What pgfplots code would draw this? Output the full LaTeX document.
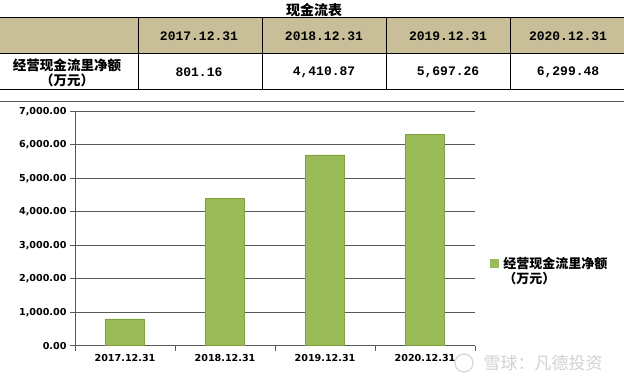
\documentclass[border=0pt]{standalone}
\usepackage{pgfplots}
\pgfplotsset{compat=1.18}
\usepackage{fontspec}
\setmainfont{DejaVu Sans}
\newfontfamily\cjk{Noto Sans CJK SC}
\newfontfamily\monof{Liberation Mono}
\definecolor{hdr}{RGB}{200,190,152}
\definecolor{barg}{RGB}{155,187,89}
\definecolor{bard}{RGB}{128,160,62}
\definecolor{gridc}{RGB}{89,89,89}
\begin{document}
\begin{tikzpicture}[x=1bp,y=1bp]
\useasboundingbox (0,0) rectangle (624,380);
\fill[white] (0,0) rectangle (624,380);
% table
\fill[hdr] (0,327) rectangle (624,362.5);
\draw[black, line width=0.9bp] (0,362.5) -- (624,362.5) (0,327) -- (624,327) (0,291) -- (624,291);
\foreach \x in {138,262,386,510} \draw[black,line width=0.9bp] (\x,362.5) -- (\x,291);
\node[font=\cjk\bfseries\fontsize{14bp}{16bp}\selectfont] at (314,369.5) {现金流表};
\begin{scope}[every node/.style={font=\monof\bfseries\fontsize{13bp}{15bp}\selectfont}]
\node at (199,344) {2017.12.31};
\node at (324,344) {2018.12.31};
\node at (448,344) {2019.12.31};
\node at (568,344) {2020.12.31};
\node at (199,308) {801.16};
\node at (324,308) {4,410.87};
\node at (448,308) {5,697.26};
\node at (568,308) {6,299.48};
\end{scope}
\node[font=\cjk\bfseries\fontsize{13.5bp}{15bp}\selectfont] at (67,315) {经营现金流里净额};
\node[font=\cjk\bfseries\fontsize{13.5bp}{15bp}\selectfont] at (67,300) {（万元）};
% chart frame line
\draw[gridc, line width=0.9bp] (0,279) -- (624,279);
\begin{axis}[
  at={(75bp,34.3bp)}, anchor=south west, scale only axis,
  width=400bp, height=234.4bp,
  xmin=-0.5, xmax=3.5, ymin=0, ymax=7000,
  axis x line*=bottom, axis y line*=left,
  axis line style={gridc, line width=0.8bp, -},
  xtick={-0.5,0.5,1.5,2.5,3.5},
  xticklabels={2017.12.31,2018.12.31,2019.12.31,2020.12.31},
  x tick label as interval,
  ytick={0,1000,...,7000},
  ymajorgrids, grid style={gridc, line width=0.8bp},
  major tick length=5bp, tick align=outside,
  tick style={gridc, line width=0.8bp},
  ticklabel style={font=\bfseries\fontsize{9.6bp}{11bp}\selectfont},
  yticklabel style={/pgf/number format/.cd, fixed, fixed zerofill, precision=2, 1000 sep={,}, assume math mode=true},
  ybar, bar width=39bp,
  legend style={at={(1.03,0.395)}, anchor=north west, draw=none, fill=none,
    font=\cjk\bfseries\fontsize{13bp}{15bp}\selectfont, cells={align=left}},
  legend cell align=left,
  legend image code/.code={\fill[barg] (0bp,4bp) rectangle (7.7bp,11.7bp); \path (10.5bp,8bp);},
]
\addplot[fill=barg, draw=bard, line width=0.6bp] coordinates {(0,801.16) (1,4410.87) (2,5697.26) (3,6299.48)};
\addlegendentry{经营现金流里净额\\（万元）}
\end{axis}
% watermark
\draw[gray!30, line width=1.3bp] (464,17) circle (9);
\node[text=gray!35, font=\cjk\fontsize{17bp}{19bp}\selectfont] at (543,17) {雪球：凡德投资};
\end{tikzpicture}
\end{document}
